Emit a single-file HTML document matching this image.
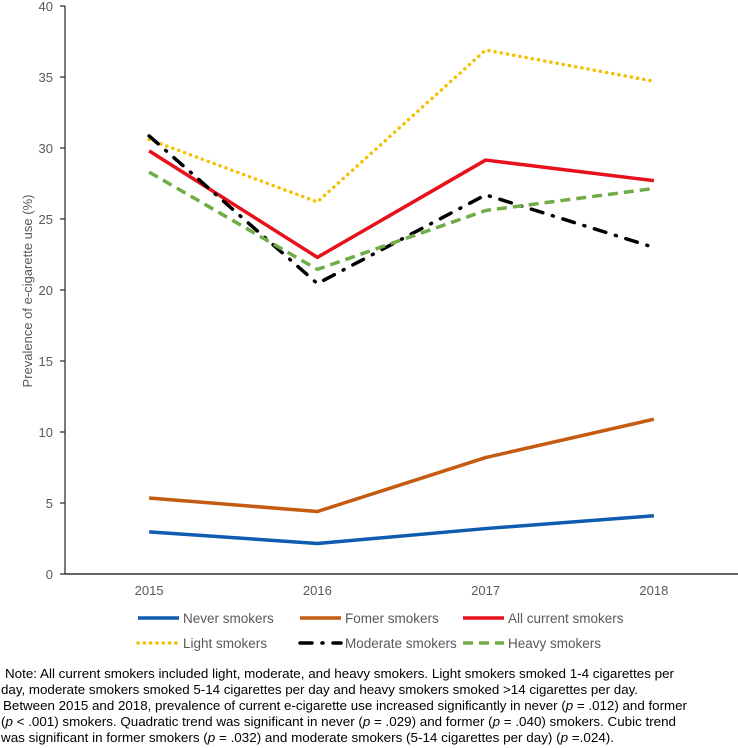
<!DOCTYPE html>
<html><head><meta charset="utf-8"><style>
body{margin:0;background:#fff;}
svg{display:block;font-family:"Liberation Sans",Arial,sans-serif;}
</style></head><body>
<svg id="chart" width="738" height="748" viewBox="0 0 738 748">
<g id="grid"></g>
<g id="series"></g>
<g id="legend"></g>
<text transform="translate(32,291) rotate(-90)" text-anchor="middle" font-size="13" fill="#595959">Prevalence of e-cigarette use (%)</text>
<g font-size="13" fill="#000">
<text x="5" y="678" textLength="669" lengthAdjust="spacingAndGlyphs">Note: All current smokers included light, moderate, and heavy smokers. Light smokers smoked 1-4 cigarettes per</text>
<text x="1" y="694" textLength="637" lengthAdjust="spacingAndGlyphs">day, moderate smokers smoked 5-14 cigarettes per day and heavy smokers smoked &gt;14 cigarettes per day.</text>
<text x="3" y="710" textLength="684" lengthAdjust="spacingAndGlyphs">Between 2015 and 2018, prevalence of current e-cigarette use increased significantly in never (<tspan font-style="italic">p</tspan> = .012) and former</text>
<text x="1" y="726" textLength="675" lengthAdjust="spacingAndGlyphs">(<tspan font-style="italic">p</tspan> &lt; .001) smokers. Quadratic trend was significant in never (<tspan font-style="italic">p</tspan> = .029) and former (<tspan font-style="italic">p</tspan> = .040) smokers. Cubic trend</text>
<text x="1" y="742" textLength="613" lengthAdjust="spacingAndGlyphs">was significant in  former smokers (<tspan font-style="italic">p</tspan> = .032) and moderate smokers (5-14 cigarettes per day) (<tspan font-style="italic">p</tspan> =.024).</text>
</g>
</svg>
<script>
const years = ["2015","2016","2017","2018"];
const yTicks = [0,5,10,15,20,25,30,35,40];
const neverSmokers = [2.97, 2.15, 3.2, 4.1];
const formerSmokers = [5.35, 4.4, 8.2, 10.9];
const allCurrentSmokers = [29.8, 22.3, 29.15, 27.7];
const lightSmokers = [30.6, 26.2, 36.9, 34.7];
const moderateSmokers = [30.85, 20.45, 26.7, 23.0];
const heavySmokers = [28.3, 21.45, 25.6, 27.15];

const NS="http://www.w3.org/2000/svg";
const X0=65, X1=738, Y0=574, YTOP=6, YMAX=40;
function xPos(i){return X0+(X1-X0)/years.length*(i+0.5);}
function yPos(v){return Y0-(Y0-YTOP)*v/YMAX;}
function mk(tag,attrs,parent){const e=document.createElementNS(NS,tag);for(const k in attrs)e.setAttribute(k,attrs[k]);parent.appendChild(e);return e;}

const grid=document.getElementById('grid');
let yAxis=mk('line',{x1:X0,y1:YTOP,x2:X0,y2:Y0,stroke:'#333','stroke-width':1.3},grid);


let xAxis=mk('line',{x1:X0,y1:Y0,x2:X1,y2:Y0,stroke:'#333','stroke-width':1.5},grid);


yTicks.forEach(t=>{
  const y=yPos(t);
  mk('line',{x1:X0-5,y1:y,x2:X0,y2:y,stroke:'#333','stroke-width':1.3},grid);
  const tx=mk('text',{x:53,y:y+5,'text-anchor':'end','font-size':13,fill:'#595959'},grid);
  tx.textContent=t;
  
  
});
years.forEach((yr,i)=>{
  const tx=mk('text',{x:xPos(i),y:595,'text-anchor':'middle','font-size':13,fill:'#595959'},grid);
  tx.textContent=yr;
  
  
});

const seriesList=[
  {name:'Never smokers',key:'never-smokers-line',data:neverSmokers,color:'#0f5bb0',dash:'',cap:'butt',w:3.5},
  {name:'Fomer smokers',key:'former-smokers-line',data:formerSmokers,color:'#c55a11',dash:'',cap:'butt',w:3.5},
  {name:'All current smokers',key:'all-current-smokers-line',data:allCurrentSmokers,color:'#e8111b',dash:'',cap:'butt',w:3.5},
  {name:'Light smokers',key:'light-smokers-line',data:lightSmokers,color:'#f5c000',dash:'0.1 6.2',cap:'round',w:3.5},
  {name:'Moderate smokers',key:'moderate-smokers-line',data:moderateSmokers,color:'#000',dash:'12 10 1 10',cap:'round',w:3.5},
  {name:'Heavy smokers',key:'heavy-smokers-line',data:heavySmokers,color:'#70ad47',dash:'10 6',cap:'butt',w:3.5}
];
const sg=document.getElementById('series');
seriesList.forEach(s=>{
  const pts=s.data.map((v,i)=>xPos(i)+','+yPos(v)).join(' ');
  const p=mk('polyline',{points:pts,fill:'none',stroke:s.color,'stroke-width':s.w,'stroke-linejoin':'round','stroke-linecap':s.cap},sg);
  if(s.dash)p.setAttribute('stroke-dasharray',s.dash);
  
  
});

const lg=document.getElementById('legend');
const legPos=[[138,618],[300,618],[463,618],[138,643],[300,643],[463,643]];
seriesList.forEach((s,i)=>{
  const [lx,ly]=legPos[i];
  const g=mk('g',{},lg);
  
  
  const ln=mk('line',{x1:lx,y1:ly,x2:lx+41,y2:ly,stroke:s.color,'stroke-width':s.w,'stroke-linecap':s.cap},g);
  if(s.dash)ln.setAttribute('stroke-dasharray',s.dash);
  const tx=mk('text',{x:lx+45,y:ly+5,'font-size':13.5,fill:'#595959'},g);
  tx.textContent=s.name;
});
</script>
</body></html>
